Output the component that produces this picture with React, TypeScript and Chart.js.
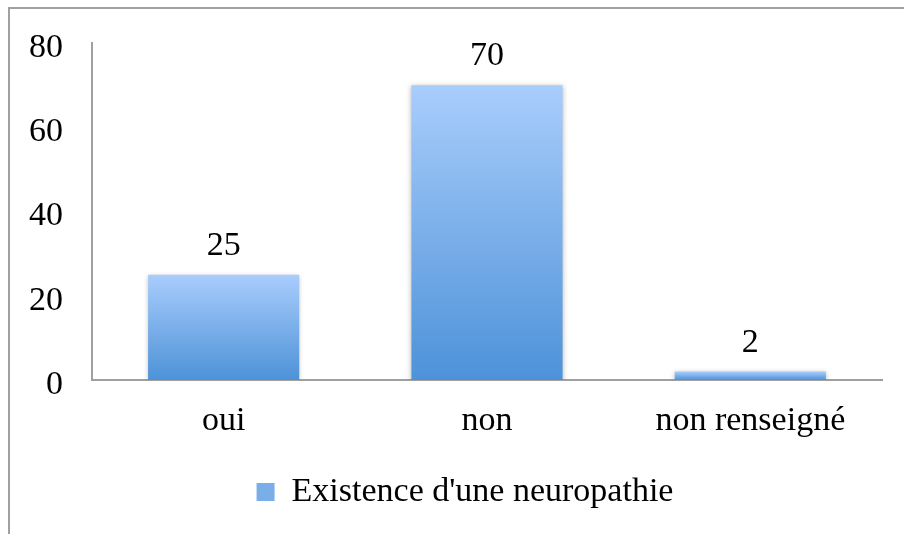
import React, { useEffect, useRef } from "react";
import { Chart, registerables } from "chart.js";

Chart.register(...registerables);

const categories = ["oui", "non", "non renseigné"];
const seriesLabel = "Existence d'une neuropathie";
const seriesValues = [25, 70, 2];
const yMin = 0;
const yMax = 80;
const yStep = 20;

const FONT = "'Liberation Serif', 'Times New Roman', serif";
const AXIS_COLOR = "#a0a0a0";
const TOP_COLOR = "#a9cdfc";
const BOTTOM_COLOR = "#4d92d8";

export default function App() {
  const ref = useRef<HTMLCanvasElement | null>(null);

  useEffect(() => {
    document.body.style.margin = "0";
    const canvas = ref.current;
    if (!canvas) return;

    const framePlugin = {
      id: "frame",
      beforeDraw(chart: any) {
        // let y tick labels extend left of the axis box without being clipped
        if (chart.scales.y) chart.scales.y.left = 0;
        const ctx = chart.ctx;
        ctx.save();
        ctx.fillStyle = "#ffffff";
        ctx.fillRect(0, 0, chart.width, chart.height);
        ctx.strokeStyle = AXIS_COLOR;
        ctx.lineWidth = 2;
        ctx.strokeRect(9, 8, chart.width + 50, chart.height + 50);
        ctx.restore();
      },
    };

    const barDeco = {
      id: "barDeco",
      beforeDatasetsDraw(chart: any) {
        const ctx = chart.ctx;
        ctx.save();
        ctx.shadowColor = "rgba(0,0,0,0.28)";
        ctx.shadowBlur = 5;
        ctx.shadowOffsetX = 0;
        ctx.shadowOffsetY = 1;
      },
      afterDatasetsDraw(chart: any) {
        const ctx = chart.ctx;
        ctx.restore();
        ctx.save();
        ctx.fillStyle = "#000";
        ctx.font = `34px ${FONT}`;
        ctx.textAlign = "center";
        ctx.textBaseline = "alphabetic";
        const meta = chart.getDatasetMeta(0);
        meta.data.forEach((el: any, i: number) => {
          ctx.fillText(String(seriesValues[i]), el.x, el.y - 20);
        });
        ctx.restore();
      },
    };

    const chart = new Chart(canvas, {
      type: "bar",
      data: {
        labels: categories,
        datasets: [
          {
            label: seriesLabel,
            data: seriesValues,
            backgroundColor: (c: any) => {
              const ch = c.chart;
              const y = ch.scales && ch.scales.y;
              if (!y || c.parsed == null || typeof c.parsed.y !== "number") return "#7aaee8";
              const top = y.getPixelForValue(c.parsed.y);
              const bottom = y.getPixelForValue(0);
              if (!isFinite(top) || !isFinite(bottom) || top === bottom) return "#7aaee8";
              const g = ch.ctx.createLinearGradient(0, top, 0, bottom);
              g.addColorStop(0, TOP_COLOR);
              g.addColorStop(1, BOTTOM_COLOR);
              return g;
            },
            borderWidth: 0,
            barPercentage: 0.574,
            categoryPercentage: 1,
          },
        ],
      },
      options: {
        responsive: false,
        animation: false,
        events: [],
        layout: { padding: { top: 43, right: 22, left: 48, bottom: 15 } },
        plugins: {
          tooltip: { enabled: false },
          legend: {
            position: "bottom",
            labels: {
              font: { family: FONT, size: 34 },
              color: "#000",
              boxWidth: 18,
              boxHeight: 18,
              padding: 10,
              generateLabels: () => [
                {
                  text: seriesLabel,
                  fillStyle: "#7aaee8",
                  strokeStyle: "#7aaee8",
                  lineWidth: 0,
                  hidden: false,
                  datasetIndex: 0,
                } as any,
              ],
            },
          },
        },
        scales: {
          x: {
            grid: { display: false, drawTicks: false },
            border: { display: true, color: AXIS_COLOR, width: 2 },
            afterFit: (scale: any) => {
              scale.height = 85;
            },
            ticks: {
              color: "#000",
              font: { family: FONT, size: 34 },
              padding: 21,
              maxRotation: 0,
              autoSkip: false,
            },
          },
          y: {
            min: yMin,
            max: yMax,
            afterFit: (scale: any) => {
              scale.width = 44;
              scale.paddingTop = 0;
              scale.paddingBottom = 0;
            },
            grid: { display: false, drawTicks: false },
            border: { display: true, color: AXIS_COLOR, width: 2 },
            ticks: {
              stepSize: yStep,
              color: "#000",
              font: { family: FONT, size: 34 },
              padding: 29,
              labelOffset: 5,
            },
          },
        },
      },
      plugins: [framePlugin, barDeco],
    });

    return () => chart.destroy();
  }, []);

  return (
    <div style={{ position: "absolute", left: 0, top: 0, width: 904, height: 534 }}>
      <canvas ref={ref} width={904} height={534} style={{ width: 904, height: 534 }} />
    </div>
  );
}
